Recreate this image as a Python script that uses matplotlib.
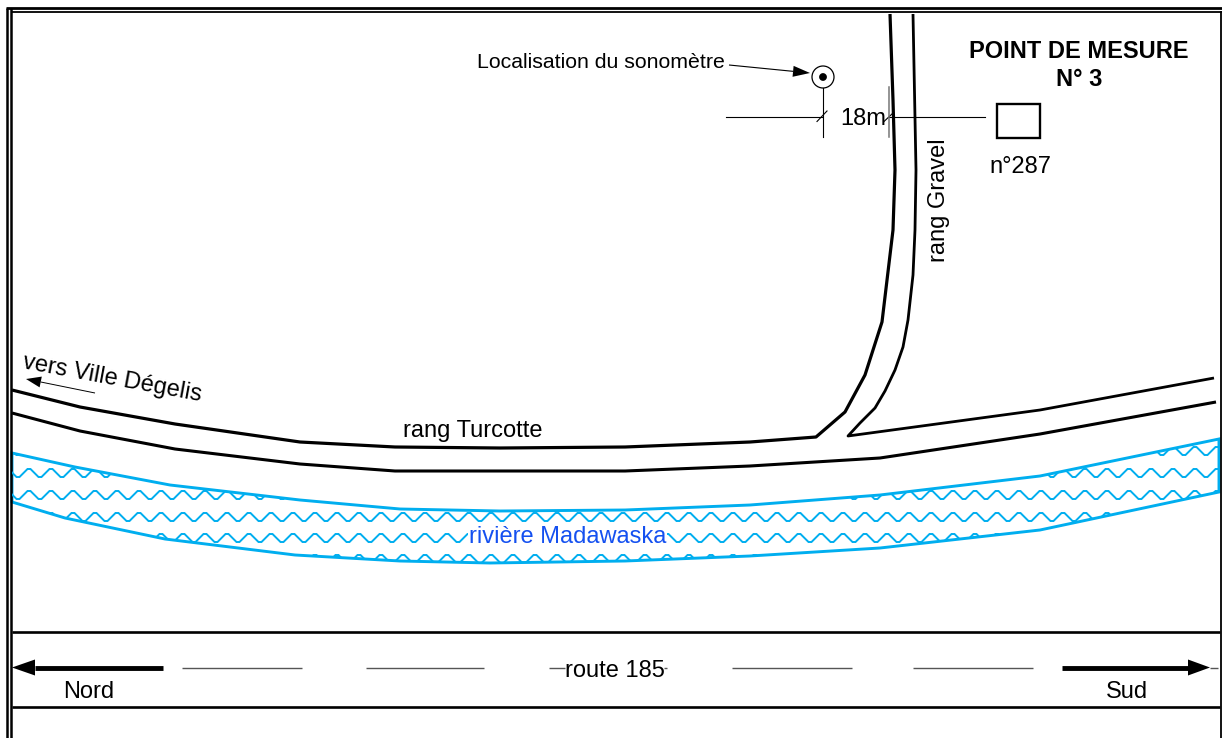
import numpy as np
import matplotlib
matplotlib.use("Agg")
import matplotlib.pyplot as plt
from matplotlib.patches import Polygon, Rectangle, Circle

plt.rcParams['font.family'] = ['Liberation Sans', 'DejaVu Sans']

W, H = 1222, 738
BLUE = '#00AEEF'
TXT = 17.0

road_left_x = [12, 80, 175, 300, 395, 500, 625, 750, 816, 845, 865, 882, 893, 895, 893, 890]
road_left_y = [390, 407, 424, 442, 447, 448, 447, 442, 437, 412, 375, 322, 230, 170, 100, 14]
road_low_x = [12, 80, 175, 300, 395, 500, 625, 750, 880, 1040, 1216]
road_low_y = [413, 431, 449, 464, 471, 471, 471, 466, 458, 434, 402]
road_right_x = [1214, 1040, 848, 860, 875, 885, 895, 903, 908, 913, 915, 916, 913]
road_right_y = [378, 410, 436, 423, 408, 391, 370, 347, 320, 275, 230, 170, 14]

river_top_x = [12, 75, 170, 300, 400, 500, 625, 750, 880, 1040, 1219]
river_top_y = [453, 467, 485, 500, 509, 511, 510, 505, 495, 476, 439]
river_bot_x = [12, 65, 165, 295, 400, 490, 625, 750, 880, 1040, 1219]
river_bot_y = [502, 518, 539, 555, 561, 563, 561, 556, 548, 530, 492]

wave_rows = [451, 473, 495, 517, 538, 559]
wave_tile_dx = [0, 3, 7, 11, 14, 18]
wave_tile_dy = [-4, -4, 0, 4, 4, 0]
wave_period = 22
wave_start = 5.5
wave_count = 56

dash_x0 = [182, 366, 549, 732, 913, 664, 1210]
dash_x1 = [302, 484, 565, 852, 1033, 667, 1218]

fig = plt.figure(figsize=(W / 100, H / 100), dpi=100)
ax = fig.add_axes([0, 0, 1, 1])
ax.set_xlim(0, W)
ax.set_ylim(H, 0)
ax.axis('off')


def arrow(tip, tail, head_len, head_w, lw):
    tip, tail = np.array(tip, float), np.array(tail, float)
    u = (tail - tip) / np.hypot(*(tail - tip))
    n = np.array([-u[1], u[0]])
    base = tip + u * head_len
    ax.plot([base[0], tail[0]], [base[1], tail[1]], color='k', lw=lw, solid_capstyle='butt')
    ax.add_patch(Polygon([tip, base + n * head_w / 2, base - n * head_w / 2],
                         closed=True, fc='k', ec='none'))


# frame
for x in (7, 11):
    ax.plot([x, x], [8, H], color='k', lw=1.8, solid_capstyle='butt')
ax.plot([1220.5, 1220.5], [11, H], color='k', lw=1.3, solid_capstyle='butt')
ax.plot([6, 1222], [8, 8], color='k', lw=2.0, solid_capstyle='butt')
ax.plot([11, 1222], [11.5, 11.5], color='k', lw=1.3, solid_capstyle='butt')

# roads
ax.plot(road_left_x, road_left_y, color='k', lw=2.3, solid_joinstyle='round', solid_capstyle='butt')
ax.plot(road_low_x, road_low_y, color='k', lw=2.2, solid_joinstyle='round', solid_capstyle='butt')
ax.plot(road_right_x, road_right_y, color='k', lw=2.0, solid_joinstyle='round', solid_capstyle='butt')

# river
poly_xy = list(zip(river_top_x, river_top_y)) + list(zip(river_bot_x, river_bot_y))[::-1]
river = Polygon(poly_xy, closed=True, fill=False, ec=BLUE, lw=2.1)
ax.add_patch(river)
for y0 in wave_rows:
    xs, ys = [], []
    for k in range(wave_count):
        for dx, dy in zip(wave_tile_dx, wave_tile_dy):
            xs.append(wave_start + k * wave_period + dx)
            ys.append(y0 + dy)
    ln, = ax.plot(xs, ys, color=BLUE, lw=1.4, solid_joinstyle='miter')
    ln.set_clip_path(river)

ax.text(567.5, 537, 'rivière Madawaska', color='#1450F0', fontsize=TXT, ha='center', va='center',
        bbox=dict(fc='white', ec='none', pad=0.5))

# route 185
ax.plot([12, 1219.5], [632, 632], color='k', lw=1.9, solid_capstyle='butt')
ax.plot([12, 1219.5], [707, 707], color='k', lw=1.9, solid_capstyle='butt')
for a, b in zip(dash_x0, dash_x1):
    ax.plot([a, b], [667.5, 667.5], color='#555555', lw=1, solid_capstyle='butt')
arrow((12, 667.5), (163, 667.5), 23, 16, 3.5)
arrow((1210, 667.5), (1062, 667.5), 22, 16, 3.5)
ax.text(615, 671, 'route 185', fontsize=TXT, ha='center', va='center')
ax.text(89, 692, 'Nord', fontsize=TXT, ha='center', va='center')
ax.text(1127, 692, 'Sud', fontsize=TXT, ha='center', va='center')

# road labels
ax.text(473, 431, 'rang Turcotte', fontsize=TXT, ha='center', va='center')
ax.text(939, 200, 'rang Gravel', fontsize=TXT, ha='center', va='center', rotation=90)
ax.text(112, 379, 'vers Ville Dégelis', fontsize=TXT, ha='center', va='center',
        rotation=-10.5, rotation_mode='anchor')
arrow((26, 379), (95, 393), 15, 11, 0.7)

# measuring point
ax.text(1079, 52, 'POINT DE MESURE', fontsize=TXT, fontweight='bold', ha='center', va='center')
ax.text(1079, 80, 'N° 3', fontsize=TXT, fontweight='bold', ha='center', va='center')
ax.add_patch(Rectangle((996.5, 103.5), 43, 34, fill=False, ec='k', lw=1.7))
ax.text(1020, 167, 'n°287', fontsize=TXT, ha='center', va='center')

# sonometer
ax.text(601, 63, 'Localisation du sonomètre', fontsize=15.3, ha='center', va='center')
ax.add_patch(Circle((823, 77), 11, fill=False, ec='k', lw=0.9))
ax.add_patch(Circle((823, 77), 3.5, fc='k', ec='k', lw=0.5))
arrow((810, 73), (729, 65), 17, 11, 0.8)
ax.plot([822.5, 822.5], [88, 137], color='k', lw=0.8)
ax.plot([726, 822], [116.5, 116.5], color='k', lw=0.8)
ax.plot([817, 827], [121.5, 111], color='k', lw=0.8)
ax.plot([889, 985], [116.5, 116.5], color='k', lw=0.8)
ax.plot([884, 893], [121.5, 113], color='k', lw=0.8)
ax.plot([889, 889], [87, 137], color='#777777', lw=1.1)
ax.text(863, 119, '18m', fontsize=TXT, ha='center', va='center')

fig.savefig('out.png', dpi=100, facecolor='white')
